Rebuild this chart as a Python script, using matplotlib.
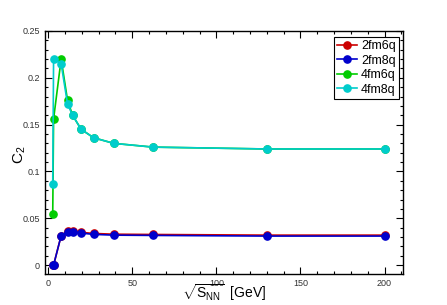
import matplotlib
matplotlib.use("Agg")
import matplotlib.pyplot as plt
from matplotlib.ticker import MultipleLocator

# collision energies (GeV)
energy = [2.7, 3.2, 7.7, 11.5, 14.5, 19.6, 27, 39, 62.4, 130, 200]

c2_2fm6q = [0.0, 0.0, 0.0315, 0.0365, 0.0365, 0.035, 0.0338, 0.033, 0.0327, 0.032, 0.032]
c2_2fm8q = [0.0, 0.0, 0.0313, 0.0355, 0.0355, 0.0342, 0.0328, 0.032, 0.0317, 0.031, 0.031]
c2_4fm6q = [0.055, 0.156, 0.220, 0.176, 0.160, 0.145, 0.136, 0.130, 0.126, 0.124, 0.124]
c2_4fm8q = [0.087, 0.220, 0.215, 0.172, 0.160, 0.145, 0.136, 0.130, 0.126, 0.124, 0.124]

labels = ["2fm6q", "2fm8q", "4fm6q", "4fm8q"]
colors = ["#cc0000", "#0000cc", "#00cc00", "#00cccc"]

plt.rcParams['font.family'] = ['Liberation Sans', 'DejaVu Sans']
plt.rcParams['mathtext.fontset'] = 'custom'
plt.rcParams['mathtext.rm'] = 'Liberation Sans'
plt.rcParams['mathtext.it'] = 'Liberation Sans'

fig = plt.figure(figsize=(4.47, 3.05), dpi=100)
ax = fig.add_axes([44.5 / 447, 31 / 305, 358.5 / 447, 243 / 305])

for y, lab, col in zip([c2_2fm6q, c2_2fm8q, c2_4fm6q, c2_4fm8q], labels, colors):
    ax.plot(energy, y, '-o', color=col, lw=1.2, ms=5.2, label=lab)

ax.set_xlim(-2.2, 211)
ax.set_ylim(-0.0095, 0.25)
ax.xaxis.set_major_locator(MultipleLocator(50))
ax.xaxis.set_minor_locator(MultipleLocator(10))
ax.yaxis.set_major_locator(MultipleLocator(0.05))
ax.yaxis.set_minor_locator(MultipleLocator(0.01))
ax.set_yticks([0, 0.05, 0.1, 0.15, 0.2, 0.25])
ax.set_yticklabels(["0", "0.05", "0.1", "0.15", "0.2", "0.25"])
ax.tick_params(which='both', direction='in', top=True, right=True,
               labelsize=6.5, labelcolor='#333333', width=0.8)
ax.tick_params(which='major', length=5)
ax.tick_params(which='minor', length=2.5)
for s in ax.spines.values():
    s.set_linewidth(1.0)

ax.set_ylabel(r"C$_2$", fontsize=11, va='center')
ax.yaxis.set_label_coords(-0.068, 0.49)
ax.set_xlabel(r"$\sqrt{S_{NN}}$  [GeV]", fontsize=10, va='center')
ax.xaxis.set_label_coords(0.5, -0.078)

leg = ax.legend(loc='upper right', bbox_to_anchor=(399 / 447, 268 / 305), bbox_transform=fig.transFigure,
                fontsize=9, fancybox=False, framealpha=1, edgecolor='black',
                handlelength=1.6, borderpad=0.25, labelspacing=0.2, handletextpad=0.3,
                borderaxespad=0)
leg.get_frame().set_linewidth(0.8)

fig.savefig("out.png", dpi=100)
